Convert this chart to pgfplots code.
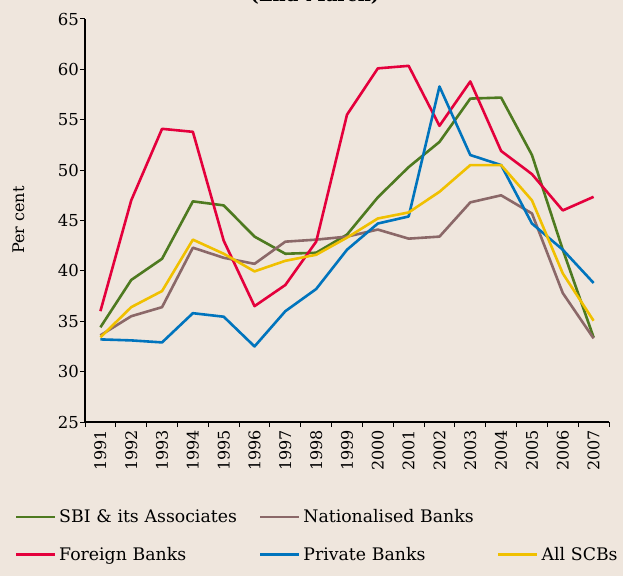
\documentclass[border=0pt]{standalone}
\usepackage{pgfplots}
\pgfplotsset{compat=1.18}
\usepackage{fontspec}
\setmainfont{DejaVu Serif}
\definecolor{bg}{RGB}{239,230,221}
\definecolor{cgreen}{RGB}{78,122,32}
\definecolor{cbrown}{RGB}{139,104,104}
\definecolor{cred}{RGB}{228,0,60}
\definecolor{cblue}{RGB}{0,116,189}
\definecolor{cyellow}{RGB}{240,192,0}
\begin{document}
\begin{tikzpicture}[x=1pt,y=1pt]
\useasboundingbox (0,0) rectangle (623,576);
\fill[bg] (0,0) rectangle (623,576);
\node[font=\bfseries\fontsize{18}{22}\selectfont, anchor=base] at (315,574) {(End-March)};
\node[rotate=90, font=\fontsize{16}{19}\selectfont] at (18.5,356) {Per cent};
\begin{axis}[
  at={(85pt,154pt)}, anchor=south west,
  scale only axis, width=524pt, height=403pt,
  xmin=0.5, xmax=17.5, ymin=25, ymax=65,
  axis x line*=bottom, axis y line*=left,
  axis line style={line width=1.2pt, black},
  xtick={1,...,17},
  xticklabels={1991,1992,1993,1994,1995,1996,1997,1998,1999,2000,2001,2002,2003,2004,2005,2006,2007},
  minor xtick={0.5,1.5,...,17.5},
  ytick={25,30,...,65},
  /pgf/number format/assume math mode=true,
  tick align=outside,
  major tick length=5pt, minor tick length=5pt,
  x tick style={draw=none},
  minor x tick style={draw=black, line width=1pt},
  y tick style={line width=1pt, black},
  xticklabel style={rotate=90, anchor=east, font=\fontsize{16}{19}\selectfont, inner xsep=3pt},
  yticklabel style={font=\fontsize{16.5}{19}\selectfont, inner xsep=1pt},
  every axis plot/.append style={line width=2.6pt, line join=round, no marks},
  legend columns=3,
  legend cell align=left,
  legend image code/.code={\draw[#1, line width=2.2pt] (0pt,0pt) -- (39pt,0pt);},
  legend style={
    draw=none, fill=none, inner sep=0pt, outer sep=0pt,
    at={(-0.1336,-0.212)}, anchor=north west,
    font=\fontsize{17.3}{20}\selectfont,
    row sep=19pt,
    nodes={inner xsep=3pt},
    /tikz/column 2/.style={text width=197pt},
    /tikz/column 4/.style={text width=191pt},
    /tikz/column 6/.style={text width=80pt},
  },
]
\addplot[cgreen] coordinates {(1,34.4)(2,39.1)(3,41.2)(4,46.9)(5,46.5)(6,43.4)(7,41.7)(8,41.8)(9,43.6)(10,47.3)(11,50.3)(12,52.8)(13,57.1)(14,57.2)(15,51.5)(16,42.1)(17,33.4)};
\addlegendentry{SBI \& its Associates}
\addplot[cbrown] coordinates {(1,33.6)(2,35.5)(3,36.4)(4,42.3)(5,41.3)(6,40.7)(7,42.9)(8,43.1)(9,43.4)(10,44.1)(11,43.2)(12,43.4)(13,46.8)(14,47.5)(15,45.7)(16,37.8)(17,33.3)};
\addlegendentry{Nationalised Banks}
\addlegendimage{empty legend}
\addlegendentry{}
\addplot[cred] coordinates {(1,36.0)(2,47.0)(3,54.1)(4,53.8)(5,43.0)(6,36.5)(7,38.6)(8,42.9)(9,55.5)(10,60.1)(11,60.35)(12,54.4)(13,58.8)(14,51.9)(15,49.6)(16,46.0)(17,47.35)};
\addlegendentry{Foreign Banks}
\addplot[cblue] coordinates {(1,33.2)(2,33.1)(3,32.9)(4,35.8)(5,35.45)(6,32.5)(7,36.0)(8,38.2)(9,42.1)(10,44.7)(11,45.4)(12,58.3)(13,51.5)(14,50.5)(15,44.7)(16,42.1)(17,38.8)};
\addlegendentry{Private Banks}
\addplot[cyellow] coordinates {(1,33.4)(2,36.4)(3,38.0)(4,43.1)(5,41.7)(6,39.95)(7,41.0)(8,41.6)(9,43.3)(10,45.2)(11,45.8)(12,47.85)(13,50.5)(14,50.5)(15,47.0)(16,39.75)(17,35.05)};
\addlegendentry{All SCBs}
\end{axis}
\end{tikzpicture}
\end{document}
